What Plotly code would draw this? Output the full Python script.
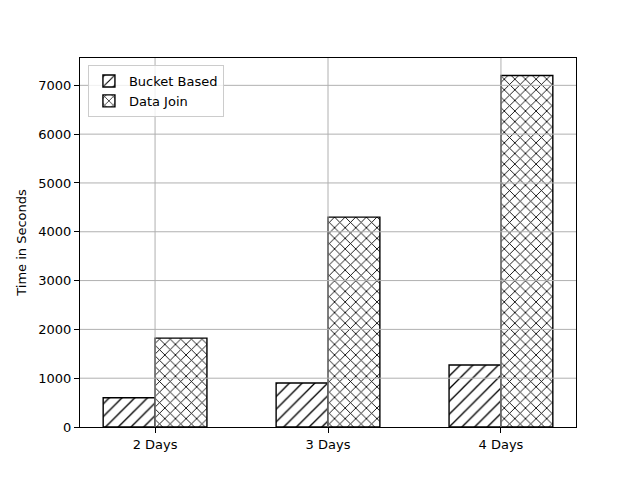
import plotly.graph_objects as go

# data
categories = ["2 Days", "3 Days", "4 Days"]
bucket_based = [600, 900, 1270]
data_join = [1820, 4300, 7200]
y_ticks = [0, 1000, 2000, 3000, 4000, 5000, 6000, 7000]

font = dict(family="DejaVu Sans", size=13, color="black")

fig = go.Figure()
fig.add_trace(go.Bar(
    name="Bucket Based", x=categories, y=bucket_based,
    marker=dict(color="white", line=dict(color="black", width=1.4),
                pattern=dict(shape="/", fgcolor="black", bgcolor="white",
                             fgopacity=1, size=9, solidity=0.15)),
))
fig.add_trace(go.Bar(
    name="Data Join", x=categories, y=data_join,
    marker=dict(color="white", line=dict(color="black", width=1.4),
                pattern=dict(shape="x", fgcolor="black", bgcolor="white",
                             fgopacity=1, size=7.5, solidity=0.22)),
))

# matplotlib draws its grid over the bars, so do it with shapes
for t in y_ticks[1:]:
    fig.add_hline(y=t, line=dict(color="#b0b0b0", width=1), layer="above")
for c in categories:
    fig.add_vline(x=c, line=dict(color="#b0b0b0", width=1), layer="above")

# page body has an 8px margin, so the figure is a bit smaller than the window
fig.update_layout(
    width=632, height=472,
    margin=dict(l=72, r=64, t=50, b=53),
    paper_bgcolor="white", plot_bgcolor="white",
    font=font,
    barmode="group", bargap=0.4, bargroupgap=0,
    showlegend=True,
    legend=dict(
        x=0.016, y=0.981, xanchor="left", yanchor="top",
        bgcolor="rgba(255,255,255,0.8)", bordercolor="#cccccc", borderwidth=1,
        font=font, tracegroupgap=0,
    ),
)
fig.update_xaxes(
    range=[-0.434, 2.434], showgrid=False,
    showline=True, linecolor="black", linewidth=1, mirror=True,
    ticks="outside", ticklen=5, tickwidth=1, tickcolor="black",
    tickfont=font,
)
fig.update_yaxes(
    range=[0, 7560], tickvals=y_ticks, showgrid=False, zeroline=False,
    showline=True, linecolor="black", linewidth=1, mirror=True,
    ticks="outside", ticklen=5, tickwidth=1, tickcolor="black",
    tickfont=font,
    title=dict(text="Time in Seconds", font=font, standoff=8),
)

fig.write_html("out.html")
